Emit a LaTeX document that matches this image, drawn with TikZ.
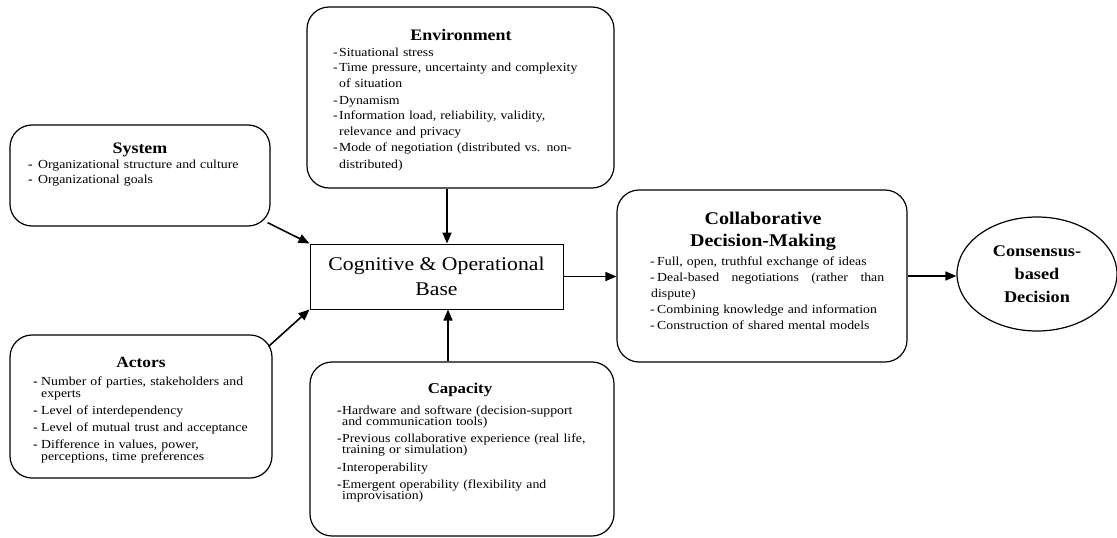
\documentclass[tikz,border=0pt]{standalone}
\usepackage{fontspec}
\setmainfont{Liberation Serif}[FakeStretch=1.12]
\usetikzlibrary{arrows.meta,shapes.geometric,calc}
\newcommand\mydash[1]{\makebox[#1][l]{-}}
\newcommand\mybdash[1]{\makebox[#1][l]{\textbf{-}}}
\newcommand\tightlines{\lineskiplimit-30pt\relax\lineskip0pt\relax}
\begin{document}
\begin{tikzpicture}[x=1pt,y=-1pt,
  rbox/.style={draw, line width=1.2pt, rounded corners=22pt, inner sep=0pt},
  bodytext/.style={anchor=base west, text width=#1, align=left, inner sep=0pt},
  ttl/.style={inner sep=0pt, align=center},
  arr/.style={line width=1.6pt, -{Triangle[length=11pt,width=9pt]}}]
\useasboundingbox[fill=white] (0,0) rectangle (1117,538);

% boxes
\node[rbox, minimum width=307pt, minimum height=181pt] (env) at (460.5,97.5) {};
\node[rbox, minimum width=260pt, minimum height=101pt] (sys) at (140,175.5) {};
\node[rbox, minimum width=262pt, minimum height=143pt] (act) at (141,406.5) {};
\node[rbox, minimum width=304pt, minimum height=174pt] (cap) at (462,449) {};
\node[rbox, minimum width=290pt, minimum height=172pt] (col) at (762,276) {};
\node[draw, line width=1pt, minimum width=253pt, minimum height=65pt, inner sep=0pt,
      align=center, font=\fontsize{19.4}{25}\selectfont] (base) at (436.5,276.5)
      {Cognitive \& Operational\\Base};
\node[draw, ellipse, line width=1.2pt, minimum width=160pt, minimum height=114pt, inner sep=0pt,
      align=center, font=\bfseries\fontsize{16.3}{23}\selectfont] (dec) at (1037,274)
      {Consensus-\\based\\Decision};

% Environment
\node[ttl, font=\bfseries\fontsize{16}{18}\selectfont] (envT) at (461,35) {Environment};
\node[bodytext=275pt, font=\fontsize{12.3}{16}\selectfont] (envB) at (333,56)
 {\mydash{6pt}Situational stress\\
  \mydash{6pt}Time pressure, uncertainty and complexity\\
  \hspace*{6pt}of situation\\
  \mydash{6pt}Dynamism\\
  \mydash{6pt}Information load, reliability, validity,\\
  \hspace*{6pt}relevance and privacy\\
  \mydash{6pt}Mode of negotiation (distributed vs. non-\\
  \hspace*{6pt}distributed)};

% System
\node[ttl, font=\bfseries\fontsize{16}{18}\selectfont] (sysT) at (140,150) {System};
\node[bodytext=235pt, font=\fontsize{12.3}{15}\selectfont] (sysB) at (28,168)
 {\mybdash{10pt}Organizational structure and culture\\
  \mybdash{10pt}Organizational goals};

% Actors
\node[ttl, font=\bfseries\fontsize{15.5}{18}\selectfont] (actT) at (141,362) {Actors};
\node[bodytext=235pt, font=\fontsize{12.3}{12}\selectfont\tightlines] (actB) at (33,385)
 {\mybdash{8pt}Number of parties, stakeholders and\\
  \hspace*{8pt}experts\\[5pt]
  \mybdash{8pt}Level of interdependency\\[5pt]
  \mybdash{8pt}Level of mutual trust and acceptance\\[5pt]
  \mybdash{8pt}Difference in values, power,\\
  \hspace*{8pt}perceptions, time preferences};

% Capacity
\node[ttl, font=\bfseries\fontsize{15}{18}\selectfont] (capT) at (460,390) {Capacity};
\node[bodytext=270pt, font=\fontsize{12.3}{11}\selectfont\tightlines] (capB) at (337,414)
 {\mybdash{5pt}Hardware and software (decision-support\\
  \hspace*{5pt}and communication tools)\\[6.5pt]
  \mybdash{5pt}Previous collaborative experience (real life,\\
  \hspace*{5pt}training or simulation)\\[6.5pt]
  \mybdash{5pt}Interoperability\\[6.5pt]
  \mybdash{5pt}Emergent operability (flexibility and\\
  \hspace*{5pt}improvisation)};

% Collaborative Decision-Making
\node[ttl, font=\bfseries\fontsize{17.9}{22}\selectfont] (colT) at (763,231) {Collaborative\\Decision-Making};
\node[bodytext=245pt, font=\fontsize{12.3}{16}\selectfont] (colB) at (650,265)
 {\mydash{7pt}Full, open, truthful exchange of ideas\\
  \mydash{7pt}\makebox[227pt][l]{Deal-based\hfill negotiations\hfill (rather\hfill than}\\
  \hspace*{1pt}dispute)\\
  \mydash{7pt}Combining knowledge and information\\
  \mydash{7pt}Construction of shared mental models};

% connectors
\coordinate (vx) at (447,0);
\coordinate (vy) at (448,0);
\draw[arr] (env.south -| vx) -- (base.north -| vx);
\draw[arr] (cap.north -| vy) -- (base.south -| vy);
\draw[arr] ($(sys.south east)+(-3,-4)$) -- (base.north west);
\draw[arr] ($(act.north east)+(-4,12)$) -- (base.south west);
\draw[arr] (base.east) -- (base.east -| col.west);
\draw[arr] (col.east) -- (col.east -| dec.west);
\end{tikzpicture}
\end{document}
